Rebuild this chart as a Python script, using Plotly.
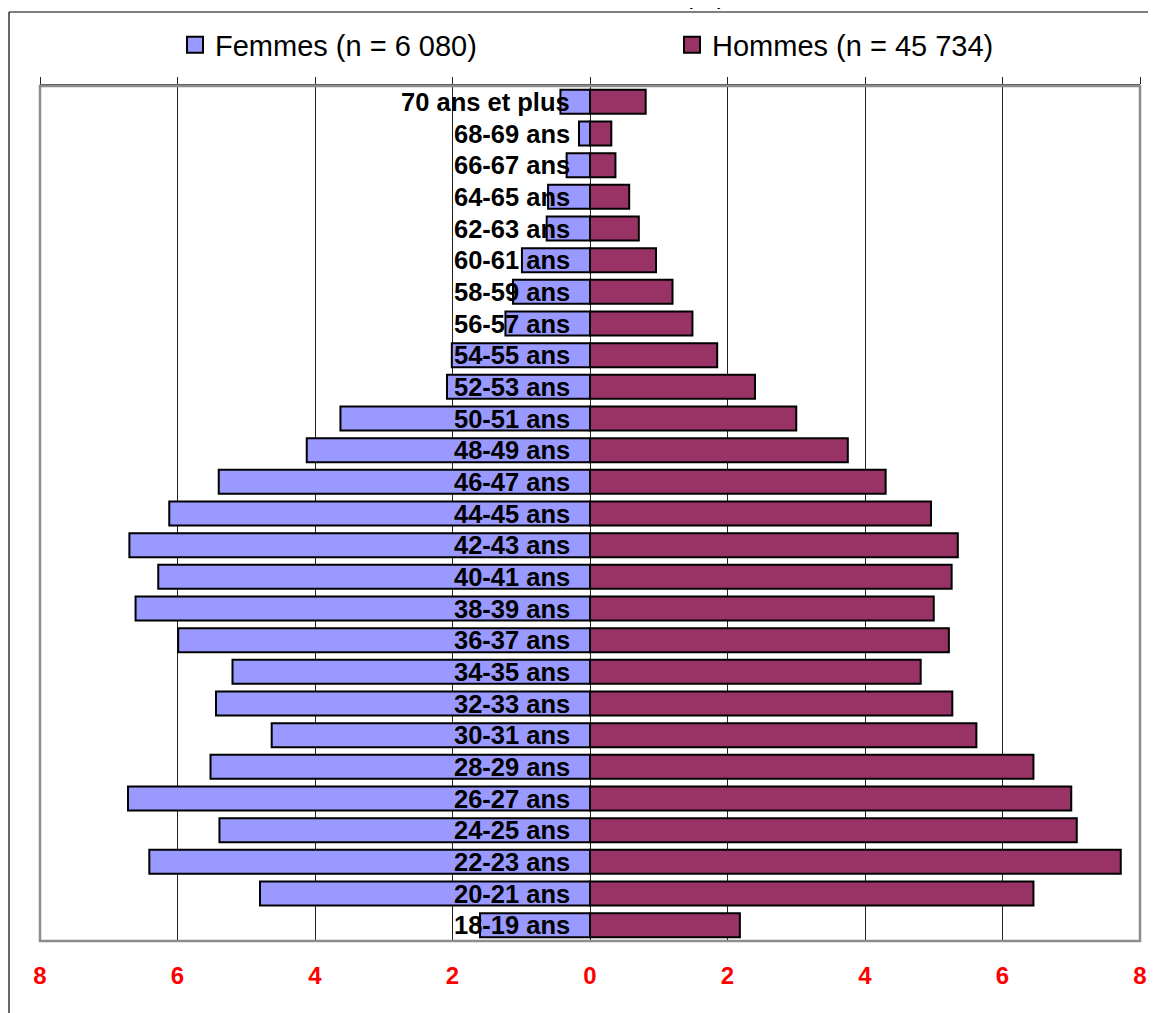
import plotly.graph_objects as go

ages = ["18-19 ans", "20-21 ans", "22-23 ans", "24-25 ans", "26-27 ans", "28-29 ans",
        "30-31 ans", "32-33 ans", "34-35 ans", "36-37 ans", "38-39 ans", "40-41 ans",
        "42-43 ans", "44-45 ans", "46-47 ans", "48-49 ans", "50-51 ans", "52-53 ans",
        "54-55 ans", "56-57 ans", "58-59 ans", "60-61 ans", "62-63 ans", "64-65 ans",
        "66-67 ans", "68-69 ans", "70 ans et plus"]
femmes = [1.60, 4.80, 6.41, 5.39, 6.72, 5.52, 4.63, 5.44, 5.20, 5.99, 6.61, 6.28, 6.70,
          6.12, 5.40, 4.12, 3.63, 2.08, 2.01, 1.23, 1.12, 0.99, 0.63, 0.61, 0.34, 0.16, 0.43]
hommes = [2.18, 6.45, 7.72, 7.08, 7.00, 6.45, 5.62, 5.27, 4.81, 5.22, 5.00, 5.26, 5.35,
          4.96, 4.30, 3.75, 3.00, 2.40, 1.85, 1.49, 1.20, 0.96, 0.71, 0.57, 0.37, 0.31, 0.81]
series_names = ["Femmes (n = 6 080)", "Hommes (n = 45 734)"]
tick_vals = [-8, -6, -4, -2, 0, 2, 4, 6, 8]
tick_text = ["8", "6", "4", "2", "0", "2", "4", "6", "8"]
title_text = "(%)"

C_F = "#9999FF"
C_H = "#993366"
FONT = "Liberation Sans, Arial, sans-serif"

# figure geometry (page has an 8px body margin)
W, H = 1148, 1005
ML, MT, PW, PH = 32, 78, 1100, 855
MR = W - ML - PW
MB = H - MT - PH


def px_x(x):
    return (x - ML) / PW


def px_y(y):
    return 1 + (MT - y) / PH


fig = go.Figure()
fig.add_trace(go.Bar(y=ages, x=[-v for v in femmes], orientation="h", name=series_names[0],
                     marker=dict(color=C_F, line=dict(color="black", width=2)),
                     showlegend=False))
fig.add_trace(go.Bar(y=ages, x=hommes, orientation="h", name=series_names[1],
                     marker=dict(color=C_H, line=dict(color="black", width=2)),
                     showlegend=False))
# legend-only entries (square swatches); they also activate the top tick axis
fig.add_trace(go.Scatter(x=[None], y=[None], mode="markers", name=series_names[0],
                         xaxis="x2",
                         marker=dict(symbol="square", size=16, color=C_F,
                                     line=dict(color="black", width=2)),
                         showlegend=True, legend="legend"))
fig.add_trace(go.Scatter(x=[None], y=[None], mode="markers", name=series_names[1],
                         xaxis="x2",
                         marker=dict(symbol="square", size=16, color=C_H,
                                     line=dict(color="black", width=2)),
                         showlegend=True, legend="legend2"))

annotations = []
for a in ages:
    annotations.append(dict(x=0, y=a, xref="x", yref="y", text=a, showarrow=False,
                            xanchor="right", yanchor="middle", xshift=-18,
                            font=dict(family=FONT, size=25.5, color="black", weight="bold")))
annotations.append(dict(x=px_x(697), y=px_y(3), xref="paper", yref="paper",
                        text=title_text, showarrow=False, xanchor="center", yanchor="bottom",
                        font=dict(family=FONT, size=27, color="black")))

shapes = [
    dict(type="rect", xref="paper", yref="paper", x0=0, x1=1, y0=0, y1=1,
         line=dict(color="#8c8c8c", width=2.5), fillcolor="rgba(0,0,0,0)", layer="above"),
    dict(type="line", xref="paper", yref="paper", x0=px_x(1), x1=px_x(W + 10),
         y0=px_y(4), y1=px_y(4), line=dict(color="black", width=1.2)),
    dict(type="line", xref="paper", yref="paper", x0=px_x(1), x1=px_x(1),
         y0=px_y(4), y1=px_y(H + 10), line=dict(color="black", width=1.2)),
]

leg_common = dict(orientation="h", xanchor="left", y=px_y(37), yanchor="middle",
                  font=dict(family=FONT, size=29, color="black"),
                  bgcolor="rgba(0,0,0,0)", itemsizing="trace")

fig.update_layout(
    width=W, height=H,
    margin=dict(l=ML, r=MR, t=MT, b=MB, autoexpand=False),
    paper_bgcolor="white", plot_bgcolor="white",
    barmode="overlay", bargap=0.24,
    font=dict(family=FONT, color="black"),
    showlegend=True,
    legend=dict(x=px_x(167), **leg_common),
    legend2=dict(x=px_x(664), **leg_common),
    xaxis=dict(range=[-8, 8], tickvals=tick_vals, ticktext=tick_text,
               showgrid=True, gridcolor="#222222", gridwidth=1,
               zeroline=True, zerolinecolor="#222222", zerolinewidth=1,
               showline=False, ticks="", ticklabelstandoff=18, automargin=False,
               tickfont=dict(family=FONT, size=24, color="#FF0000", weight="bold"),
               fixedrange=True),
    xaxis2=dict(range=[-8, 8], tickvals=tick_vals, overlaying="x", side="top",
                anchor="y", showgrid=False, zeroline=False, showticklabels=False,
                ticks="outside", ticklen=7, tickcolor="#222222", tickwidth=1,
                showline=True, linecolor="#555555", linewidth=2, automargin=False),
    yaxis=dict(categoryorder="array", categoryarray=ages, range=[-0.5, len(ages) - 0.5],
               showticklabels=False, showgrid=False, zeroline=False, ticks="",
               automargin=False),
    annotations=annotations,
    shapes=shapes,
)

fig.write_html("out.html")
